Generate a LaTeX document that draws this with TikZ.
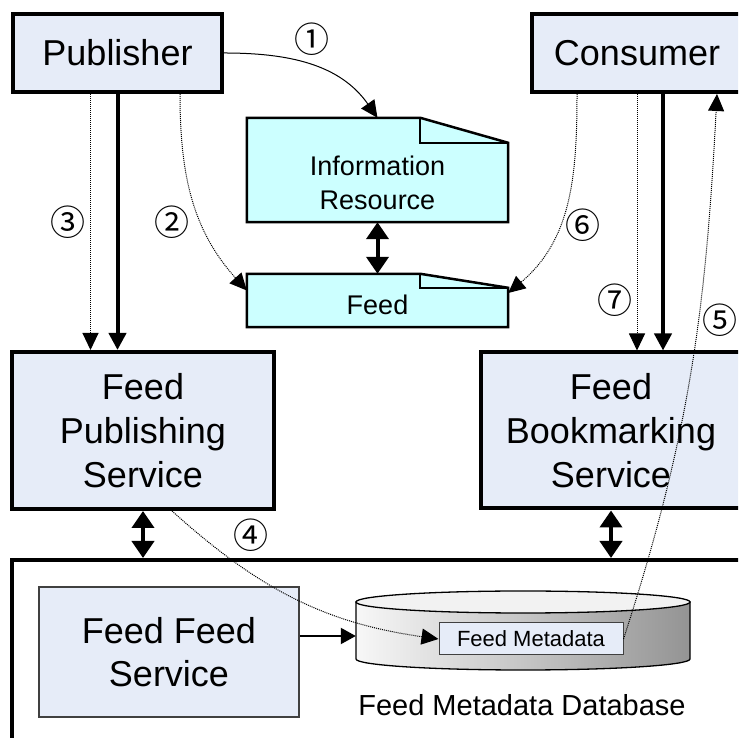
\documentclass[tikz,border=0pt]{standalone}
\usepackage{fontspec}
\setmainfont{Liberation Sans}
\newfontfamily\numfont{Noto Sans CJK JP}
\usetikzlibrary{arrows.meta}

\definecolor{boxblue}{RGB}{230,236,248}
\definecolor{doccyan}{RGB}{204,255,255}

\tikzset{
  actor/.style={draw,line width=4pt,fill=boxblue,align=center,inner sep=0pt,
    font=\fontsize{36}{44}\selectfont},
  inner box/.style={draw=black!75,fill=boxblue,align=center,inner sep=0pt},
  docshape/.style={inner sep=0pt},
  docline/.style={draw,line width=2.5pt,fill=doccyan,line join=miter},
  doctext/.style={align=center,inner sep=0pt,font=\fontsize{27}{34}\selectfont},
  stepnum/.style={inner sep=0pt,font=\numfont\fontsize{35}{35}\selectfont},
  link/.style={line width=1pt,-{Triangle[length=17pt,width=16pt]}},
  flow/.style={link,densely dotted},
  call/.style={line width=4pt,-{Triangle[length=17pt,width=17pt]}},
  both/.style={line width=4pt,{Triangle[length=17pt,width=22pt]}-{Triangle[length=17pt,width=22pt]}}
}

\begin{document}
\begin{tikzpicture}[x=1pt,y=1pt]
   \useasboundingbox (0,0) rectangle (738,738);
   \clip (0,0) rectangle (738,738);

   %% Akteure
   \node[actor,minimum width=209pt,minimum height=78pt] (pub) at (117.5,685) {Publisher};
   \node[actor,minimum width=210pt,minimum height=78pt] (cons) at (637,685) {Consumer};

   %% Dokumente
   \node[docshape,minimum width=261pt,minimum height=104pt] (ir) at (377.5,568) {};
   \draw[docline] (ir.south west) -- (ir.north west) -- ([xshift=-88pt]ir.north east)
      -- ([yshift=-25pt]ir.north east) -- (ir.south east) -- cycle;
   \draw[line width=2.5pt] ([xshift=-88pt]ir.north east) -- ([xshift=-88pt,yshift=-25pt]ir.north east)
      -- ([yshift=-25pt]ir.north east);
   \node[doctext] (irtext) at ([yshift=-12.5pt]ir.center) {Information\\Resource};

   \node[docshape,minimum width=261pt,minimum height=53pt] (feed) at (377.5,437.5) {};
   \draw[docline] (feed.south west) -- (feed.north west) -- ([xshift=-88pt]feed.north east)
      -- ([yshift=-14pt]feed.north east) -- (feed.south east) -- cycle;
   \draw[line width=2.5pt] ([xshift=-88pt]feed.north east) -- ([xshift=-88pt,yshift=-14pt]feed.north east)
      -- ([yshift=-14pt]feed.north east);
   \node[doctext] (feedtext) at ([yshift=-4.5pt]feed.center) {Feed};

   %% Dienste
   \node[actor,minimum width=262pt,minimum height=157pt] (fps) at (143,307.5) {Feed\\Publishing\\Service};
   \node[actor,minimum width=260pt,minimum height=156pt] (fbs) at (611,307.5) {Feed\\Bookmarking\\Service};

   %% Speicher
   \node[draw,line width=4pt,minimum width=748pt,minimum height=198pt] (store) at (386,79) {};
   \node[inner box,line width=1.3pt,minimum width=260pt,minimum height=130pt,
      font=\fontsize{36}{43}\selectfont] (ffs) at (169,86) {Feed Feed\\Service};
   \shadedraw[left color=black!3,right color=black!42,line width=1.3pt]
      (356,136) -- (356,79) arc[start angle=180,end angle=360,x radius=167,y radius=11]
      -- (690,136) -- cycle;
   \draw[fill=black!5,line width=1.3pt] (523,136) ellipse[x radius=167,y radius=11];
   \node[docshape,minimum width=334pt,minimum height=79pt] (db) at (523,102) {};
   \node[inner box,line width=1pt,minimum width=184pt,minimum height=32pt,
      font=\fontsize{22}{22}\selectfont] (meta) at (531,99) {Feed Metadata};
   \node[font=\fontsize{29}{29}\selectfont] (dbname) at (522,33) {Feed Metadata Database};

   %% Verbindungen
   \draw[both] (ir.south) -- (feed.north);
   \draw[both] (fps.south) -- (fps.south |- store.north);
   \draw[both] (fbs.south) -- (fbs.south |- store.north);
   \draw[call] (pub.south) -- (pub.south |- fps.north);
   \draw[call] ([xshift=26pt]cons.south) -- ([xshift=26pt]cons.south |- fbs.north);
   \draw[line width=2pt,-{Triangle[length=15pt,width=16pt]}] (ffs.east |- db.west) -- (db.west);

   \draw[link] (pub.east) to[out=0,in=125] (ir.north);
   \draw[flow] ([xshift=62.5pt]pub.south) to[out=-90,in=132] ([yshift=10pt]feed.west);
   \draw[flow] ([xshift=-27pt]pub.south) -- ([xshift=-27pt]pub.south |- fps.north);
   \draw[flow] ([xshift=29pt]fps.south) to[out=-42,in=172] (meta.west);
   \draw[flow] (meta.east) to[out=72,in=-93] ([xshift=80pt]cons.south);
   \draw[flow] ([xshift=-60pt]cons.south) to[out=-90,in=40] ([yshift=7.5pt]feed.east);
   \draw[flow] (cons.south) -- (cons.south |- fbs.north);

   %% Nummern
   \node[stepnum] (n1) at (312,699) {①};
   \node[stepnum] (n2) at (172,516) {②};
   \node[stepnum] (n3) at (68,516) {③};
   \node[stepnum] (n4) at (251,203) {④};
   \node[stepnum] (n5) at (720,418) {⑤};
   \node[stepnum] (n6) at (583,513) {⑥};
   \node[stepnum] (n7) at (615,438) {⑦};
\end{tikzpicture}
\end{document}
